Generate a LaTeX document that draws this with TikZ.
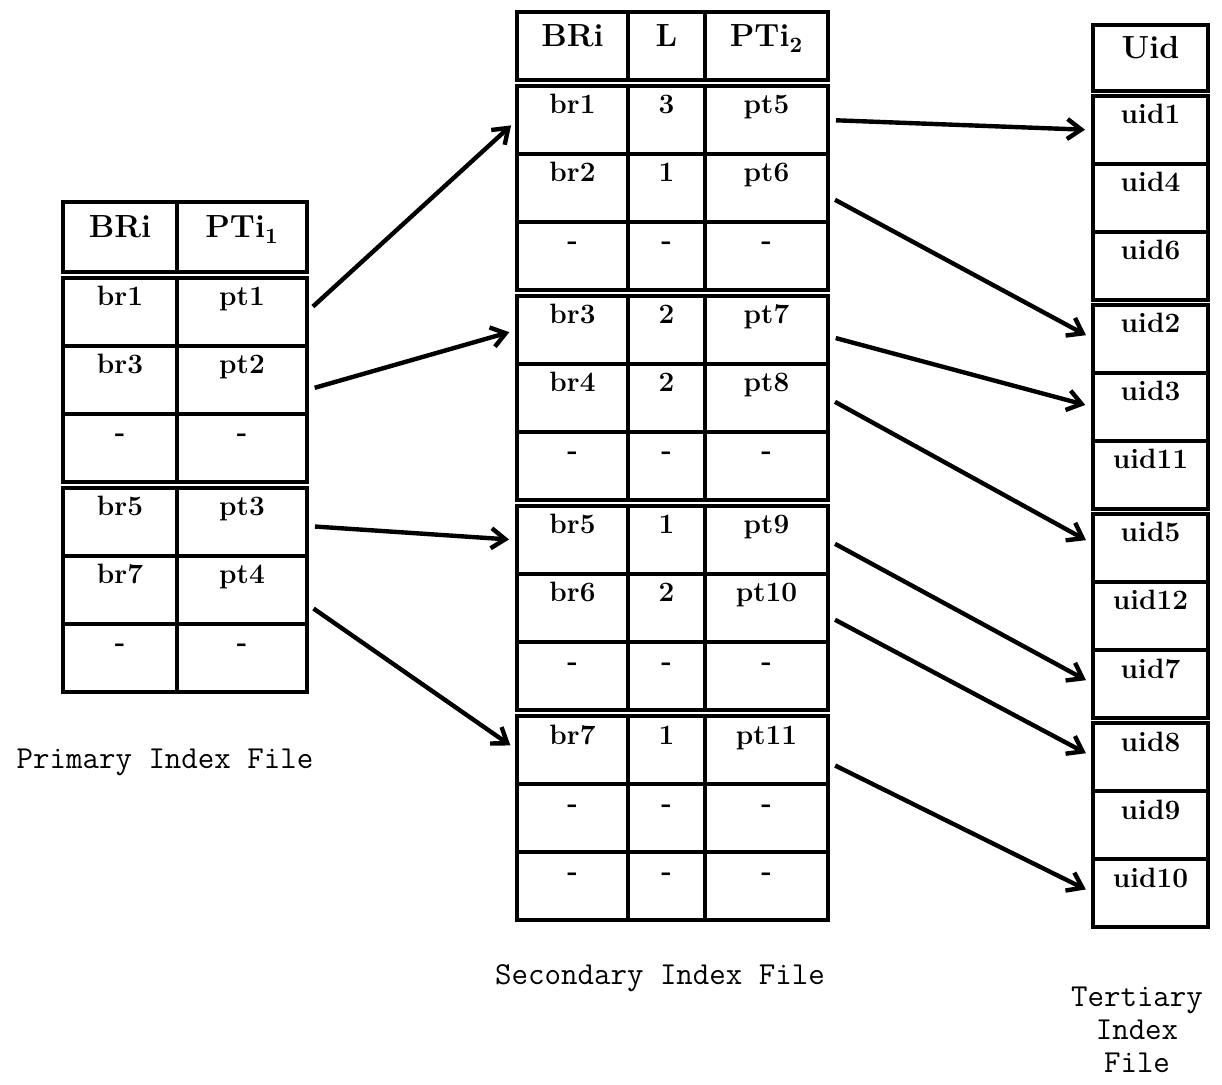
\documentclass[tikz,border=0pt]{standalone}
\usepackage{tikz}
\usetikzlibrary{arrows.meta,positioning}

\begin{document}
\begin{tikzpicture}[
  node distance=0pt,
  cell/.style={draw, line width=1.7pt, outer sep=0pt, inner sep=0pt, minimum height=34pt, text height=14pt, text depth=20pt, font=\fontsize{14}{15}\selectfont\bfseries},
  hd/.style={text height=17pt, text depth=16pt, font=\fontsize{16}{17}\selectfont\bfseries},
  pa/.style={cell, minimum width=57pt},
  pb/.style={cell, minimum width=65pt},
  sa/.style={cell, minimum width=55.5pt},
  sb/.style={cell, minimum width=38.5pt},
  sc/.style={cell, minimum width=61.5pt},
  ta/.style={cell, minimum width=57.5pt},
  filecap/.style={font=\fontsize{16}{16.5}\selectfont\ttfamily, align=center},
  ptr/.style={-{Straight Barb[length=7pt,width=10pt]}, line width=2.2pt, shorten <=4pt, shorten >=4pt}
]
\useasboundingbox (0,0) rectangle (611pt,-542.5pt);

% primary index file
\node[pa, hd, minimum height=35pt, anchor=north west] (pBRi) at (31.5pt,-101pt) {BRi};
\node[pb, hd, minimum height=35pt, right=of pBRi] (pPTi) {PTi$_{\mathbf{1}}$};
\node[pa, below=3pt of pBRi] (p1a) {br1}; \node[pb, right=of p1a] (p1b) {pt1};
\node[pa, below=of p1a] (p2a) {br3};      \node[pb, right=of p2a] (p2b) {pt2};
\node[pa, below=of p2a] (p3a) {-};        \node[pb, right=of p3a] (p3b) {-};
\node[pa, below=3pt of p3a] (p4a) {br5};  \node[pb, right=of p4a] (p4b) {pt3};
\node[pa, below=of p4a] (p5a) {br7};      \node[pb, right=of p5a] (p5b) {pt4};
\node[pa, below=of p5a] (p6a) {-};        \node[pb, right=of p6a] (p6b) {-};

% secondary index file
\node[sa, hd, anchor=north west] (sBRi) at (258.5pt,-6pt) {BRi};
\node[sb, hd, right=of sBRi] (sL) {L};
\node[sc, hd, right=of sL] (sPTi) {PTi$_{\mathbf{2}}$};
\node[sa, below=3pt of sBRi] (s1a) {br1}; \node[sb, right=of s1a] (s1b) {3}; \node[sc, right=of s1b] (s1c) {pt5};
\node[sa, below=of s1a] (s2a) {br2};      \node[sb, right=of s2a] (s2b) {1}; \node[sc, right=of s2b] (s2c) {pt6};
\node[sa, below=of s2a] (s3a) {-};        \node[sb, right=of s3a] (s3b) {-}; \node[sc, right=of s3b] (s3c) {-};
\node[sa, below=3pt of s3a] (s4a) {br3};  \node[sb, right=of s4a] (s4b) {2}; \node[sc, right=of s4b] (s4c) {pt7};
\node[sa, below=of s4a] (s5a) {br4};      \node[sb, right=of s5a] (s5b) {2}; \node[sc, right=of s5b] (s5c) {pt8};
\node[sa, below=of s5a] (s6a) {-};        \node[sb, right=of s6a] (s6b) {-}; \node[sc, right=of s6b] (s6c) {-};
\node[sa, below=3pt of s6a] (s7a) {br5};  \node[sb, right=of s7a] (s7b) {1}; \node[sc, right=of s7b] (s7c) {pt9};
\node[sa, below=of s7a] (s8a) {br6};      \node[sb, right=of s8a] (s8b) {2}; \node[sc, right=of s8b] (s8c) {pt10};
\node[sa, below=of s8a] (s9a) {-};        \node[sb, right=of s9a] (s9b) {-}; \node[sc, right=of s9b] (s9c) {-};
\node[sa, below=3pt of s9a] (s10a) {br7}; \node[sb, right=of s10a] (s10b) {1}; \node[sc, right=of s10b] (s10c) {pt11};
\node[sa, below=of s10a] (s11a) {-};      \node[sb, right=of s11a] (s11b) {-}; \node[sc, right=of s11b] (s11c) {-};
\node[sa, below=of s11a] (s12a) {-};      \node[sb, right=of s12a] (s12b) {-}; \node[sc, right=of s12b] (s12c) {-};

% tertiary index file
\node[ta, hd, minimum height=33pt, anchor=north west] (tUid) at (546.5pt,-12.5pt) {Uid};
\node[ta, below=2.5pt of tUid] (t1) {uid1};
\node[ta, below=of t1] (t2) {uid4};
\node[ta, below=of t2] (t3) {uid6};
\node[ta, below=2.5pt of t3] (t4) {uid2};
\node[ta, below=of t4] (t5) {uid3};
\node[ta, below=of t5] (t6) {uid11};
\node[ta, below=2.5pt of t6] (t7) {uid5};
\node[ta, below=of t7] (t8) {uid12};
\node[ta, below=of t8] (t9) {uid7};
\node[ta, below=2.5pt of t9] (t10) {uid8};
\node[ta, below=of t10] (t11) {uid9};
\node[ta, below=of t11] (t12) {uid10};

% captions
\node[filecap] (pcap) at (82.5pt,-381pt) {Primary Index File};
\node[filecap] (scap) at (330pt,-489pt) {Secondary Index File};
\node[filecap] (tcap) at (568.5pt,-515pt) {Tertiary\\Index\\File};

% pointers
\draw[ptr] (p1b.east) -- (s1a.west);
\draw[ptr] ([yshift=-5pt]p2b.east) -- (s4a.west);
\draw[ptr] ([yshift=-2pt]p4b.east) -- (s7a.west);
\draw[ptr] ([yshift=-7pt]p5b.east) -- (s10a.west);
\draw[ptr] (s1c.east) -- (t1.west);
\draw[ptr] ([yshift=-4pt]s2c.east) -- (t4.west);
\draw[ptr] ([yshift=-3pt]s4c.east) -- (t5.west);
\draw[ptr] (s5c.east) -- ([yshift=2pt]t7.west);
\draw[ptr] (s7c.east) -- (t9.west);
\draw[ptr] ([yshift=-4pt]s8c.east) -- (t10.west);
\draw[ptr] ([yshift=-6pt]s10c.east) -- (t12.west);
\end{tikzpicture}
\end{document}
